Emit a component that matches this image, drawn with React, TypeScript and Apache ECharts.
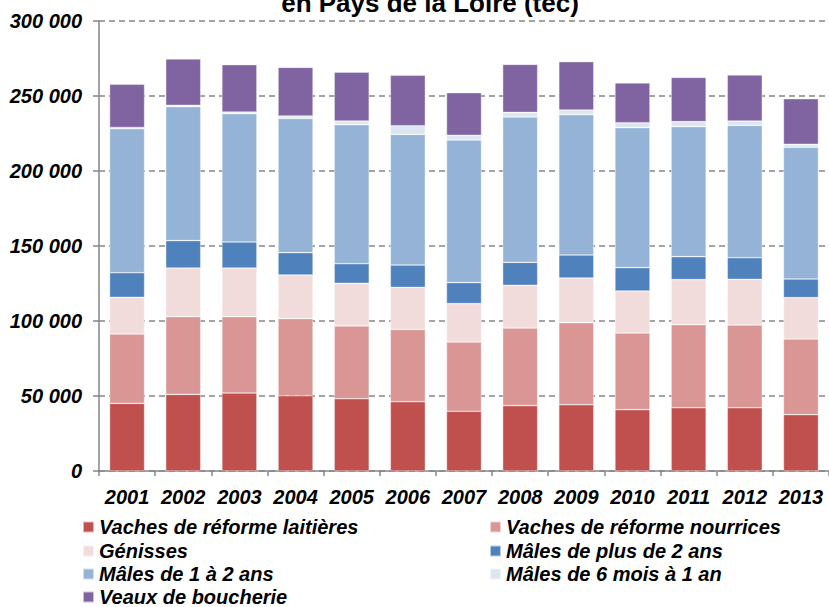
import React, { useEffect, useRef } from "react";
import * as echarts from "echarts";

const years = ["2001","2002","2003","2004","2005","2006","2007","2008","2009","2010","2011","2012","2013"];
const vachesLaitieres = [45100, 51100, 52000, 50200, 48200, 46200, 39800, 43600, 44200, 40900, 42200, 42200, 37600];
const vachesNourrices = [46200, 51800, 50900, 51400, 48500, 48200, 46200, 51700, 54700, 51100, 55400, 55100, 50400];
const genisses = [24500, 32400, 32400, 29100, 28400, 28000, 25600, 28500, 29800, 28000, 30000, 30500, 27600];
const malesPlus2 = [16400, 18300, 17400, 14900, 13100, 14900, 14000, 15300, 15300, 15600, 15300, 14400, 12400];
const males1a2 = [96000, 89300, 85500, 89500, 92700, 87100, 95100, 96900, 93600, 93300, 86700, 88200, 87800];
const males6mois = [800, 900, 1100, 1600, 2400, 5800, 3100, 3100, 3100, 3300, 3300, 2900, 2000];
const veaux = [28800, 30900, 31600, 32400, 32500, 33600, 28400, 32000, 32200, 26500, 29500, 30700, 30400];
const yTicks = [0, 50000, 100000, 150000, 200000, 250000, 300000];

const seriesDefs = [
  { name: "Vaches de réforme laitières", data: vachesLaitieres, color: "#C0504D" },
  { name: "Vaches de réforme nourrices", data: vachesNourrices, color: "#D99694" },
  { name: "Génisses", data: genisses, color: "#F2DCDB" },
  { name: "Mâles de plus de 2 ans", data: malesPlus2, color: "#4F81BD" },
  { name: "Mâles de 1 à 2 ans", data: males1a2, color: "#95B3D7" },
  { name: "Mâles de 6 mois à 1 an", data: males6mois, color: "#DCE6F2" },
  { name: "Veaux de boucherie", data: veaux, color: "#8064A2" },
];

// legend slots: [series index, column, row]
const legendSlots = [
  [0, 0, 0], [1, 1, 0],
  [2, 0, 1], [3, 1, 1],
  [4, 0, 2], [5, 1, 2],
  [6, 0, 3],
];

const FONT = "'Liberation Sans', Arial, sans-serif";

export default function App() {
  const ref = useRef<HTMLDivElement>(null);
  useEffect(() => {
    if (!ref.current) return;
    const chart = echarts.init(ref.current, undefined, { renderer: "svg" });
    const legendText = { fontFamily: FONT, fontSize: 20, fontWeight: "bold", fontStyle: "italic", color: "#000", lineHeight: 18 };
    const colLeft = [82, 489];
    const rowTop = [517, 541, 564, 587];
    chart.setOption({
      animation: false,
      graphic: [
        {
          type: "text",
          x: 430,
          y: 3,
          style: {
            text: "en Pays de la Loire (téc)",
            fontFamily: FONT,
            fontSize: 26,
            fontWeight: "bold",
            fill: "#000",
            textAlign: "center",
            textVerticalAlign: "middle",
          },
        },
      ],
      legend: legendSlots.map(([si, c, r]) => ({
        orient: "horizontal",
        left: colLeft[c],
        top: rowTop[r],
        itemWidth: 11,
        itemHeight: 11,
        icon: "rect",
        padding: 0,
        textStyle: legendText,
        data: [seriesDefs[si].name],
      })),
      grid: { left: 99, right: -4, top: 21, bottom: 136, containLabel: false },
      xAxis: {
        type: "category",
        data: years,
        axisLine: { lineStyle: { color: "#868686", width: 1.5 } },
        axisTick: { show: true, length: 5, lineStyle: { color: "#868686", width: 1.5 } },
        axisLabel: { interval: 0, fontFamily: FONT, fontSize: 20, fontWeight: "bold", fontStyle: "italic", color: "#000", margin: 16 },
      },
      yAxis: {
        type: "value",
        min: yTicks[0],
        max: yTicks[yTicks.length - 1],
        interval: 50000,
        axisLine: { show: true, lineStyle: { color: "#868686", width: 1.5 } },
        axisTick: { show: true, length: 6, lineStyle: { color: "#868686", width: 1.5 } },
        splitLine: { show: true, lineStyle: { color: "#868686", type: [6, 4], width: 1.5 } },
        axisLabel: {
          fontFamily: FONT,
          fontSize: 20,
          fontWeight: "bold",
          fontStyle: "italic",
          color: "#000",
          margin: 17,
          formatter: (v: number) => String(v).replace(/\B(?=(\d{3})+(?!\d))/g, " "),
        },
      },
      series: seriesDefs.map((s) => ({
        name: s.name,
        type: "bar",
        stack: "total",
        barWidth: 35,
        data: s.data,
        itemStyle: { color: s.color, borderColor: "rgba(255,255,255,0.6)", borderWidth: 0.6 },
      })),
    });
    return () => chart.dispose();
  }, []);
  return <div ref={ref} style={{ width: 829, height: 607, position: "absolute", left: 0, top: 0 }} />;
}
